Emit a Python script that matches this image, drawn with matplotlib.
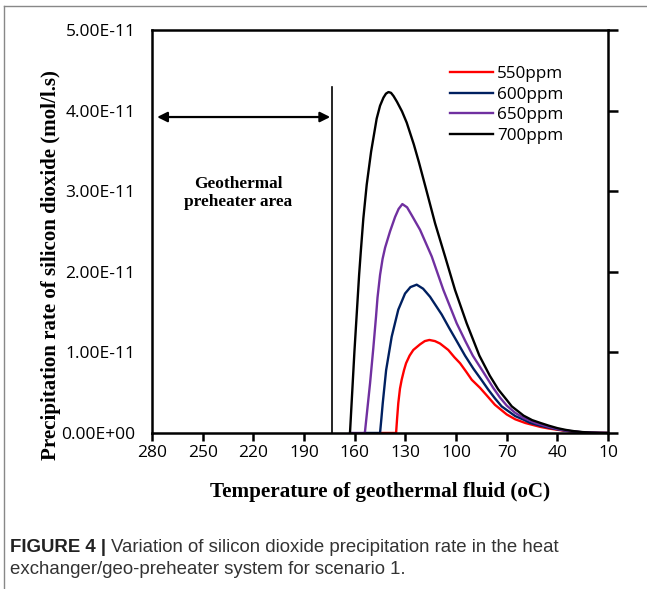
import matplotlib.pyplot as plt
from matplotlib.lines import Line2D

# temperatures (oC) and precipitation rates (x 1e-11 mol/l.s)
t_700 = [162.8, 160.2, 157.4, 156.4, 154.9, 152.9, 150.3, 147, 145, 143, 141.5, 140, 138.5,
         137, 135, 132, 129.2, 125, 122, 117.8, 112.4, 106.5, 100.6, 93.7, 86.2, 80, 75, 70, 67,
         60, 55, 50, 45, 40, 35, 30, 25, 20, 15, 10]
v_700 = [0, 1.0, 1.96, 2.25, 2.66, 3.08, 3.49, 3.9, 4.06, 4.16, 4.21, 4.23, 4.22,
         4.18, 4.11, 3.99, 3.85, 3.58, 3.36, 3.03, 2.6, 2.19, 1.774, 1.36, 0.96, 0.71, 0.54, 0.41,
         0.33, 0.215, 0.16, 0.124, 0.09, 0.06, 0.038, 0.022, 0.011, 0.005, 0.002, 0]

t_650 = [162.8, 154, 152.5, 150.9, 149, 147.4, 146.5, 145, 143.5, 142, 139.1, 136.1, 134,
         131.8, 129, 126.2, 121.3, 114.4, 107.5, 99.6, 94.5, 90.1, 84, 78, 74, 70, 65, 60, 53,
         45, 40, 35, 30, 25, 20, 15, 10]
v_650 = [0, 0, 0.3, 0.62, 1.05, 1.44, 1.68, 1.96, 2.16, 2.3, 2.5, 2.68, 2.78,
         2.84, 2.8, 2.7, 2.52, 2.19, 1.774, 1.36, 1.14, 0.96, 0.76, 0.56, 0.44, 0.34, 0.25,
         0.186, 0.124, 0.075, 0.05, 0.03, 0.018, 0.009, 0.004, 0.001, 0]

t_600 = [154, 145, 144.2, 143.4, 141.4, 138.1, 134.2, 130.2, 127, 123.3, 119.5, 115.4, 108.5,
         104, 99.6, 94.7, 89.8, 85, 81, 77, 73, 65, 60, 56, 50, 45, 40, 35, 30, 25, 20, 15, 10]
v_600 = [0, 0, 0.18, 0.37, 0.78, 1.195, 1.53, 1.73, 1.81, 1.84, 1.79, 1.69, 1.47,
         1.3, 1.14, 0.96, 0.8, 0.66, 0.54, 0.43, 0.33, 0.21, 0.165, 0.124, 0.09, 0.065, 0.045,
         0.028, 0.016, 0.008, 0.003, 0.001, 0]

t_550 = [145, 135.5, 134.9, 134.2, 133.2, 132.2, 130.8, 129.6, 127.5, 125.3, 121.3, 118.5,
         115.8, 112.5, 109.5, 104.6, 101, 97.6, 94, 90.7, 85.8, 82, 77, 70, 65, 59, 50, 45, 40,
         35, 30, 25, 20, 15, 10]
v_550 = [0, 0, 0.18, 0.37, 0.55, 0.66, 0.78, 0.865, 0.96, 1.03, 1.1, 1.14,
         1.154, 1.14, 1.11, 1.03, 0.94, 0.865, 0.76, 0.66, 0.56, 0.47, 0.35, 0.23, 0.17, 0.124,
         0.075, 0.055, 0.04, 0.025, 0.014, 0.007, 0.003, 0.001, 0]

series = [
    ('550ppm', t_550, v_550, '#FF0000'),
    ('600ppm', t_600, v_600, '#002060'),
    ('650ppm', t_650, v_650, '#7030A0'),
    ('700ppm', t_700, v_700, '#000000'),
]

x_ticks = [280, 250, 220, 190, 160, 130, 100, 70, 40, 10]
y_ticks = [0, 1, 2, 3, 4, 5]
y_labels = ['0.00E+00', '1.00E-11', '2.00E-11', '3.00E-11', '4.00E-11', '5.00E-11']

preheater_edge = 173.4
arrow_left, arrow_right, arrow_y = 277, 174.5, 3.92

serif = ['Liberation Serif', 'DejaVu Serif']
sans = ['Open Sans', 'DejaVu Sans']

fig = plt.figure(figsize=(6.47, 5.89), dpi=100)
ax = fig.add_axes([0.235, 0.2649, 0.7048, 0.6842])

for name, t, v, col in series:
    ax.plot(t, v, color=col, linewidth=1.7, label=name, solid_joinstyle='round')

ax.set_xlim(280, 10)
ax.set_ylim(0, 5)
ax.set_xticks(x_ticks)
ax.set_xticklabels([str(x) for x in x_ticks], fontfamily=sans, fontsize=12.5)
ax.set_yticks(y_ticks)
ax.set_yticklabels(y_labels, fontfamily=sans, fontsize=12.5)
ax.tick_params(axis='x', direction='out', length=6, width=1.8, pad=3)
ax.tick_params(axis='y', left=False, right=True, direction='out', length=7, width=1.8, pad=5)
for s in ax.spines.values():
    s.set_linewidth(1.8)

# preheater boundary and arrow
ax.plot([preheater_edge, preheater_edge], [0, 4.29], color='black', linewidth=1.2)
ax.annotate('', xy=(arrow_right, arrow_y), xytext=(arrow_left, arrow_y),
            arrowprops=dict(arrowstyle='<|-|>', color='black', lw=1.6, mutation_scale=15,
                            shrinkA=0, shrinkB=0))
ax.text(229, 2.98, 'Geothermal\npreheater area', ha='center', va='center',
        fontfamily=serif, fontweight='bold', fontsize=12.4, linespacing=1.2)

ax.set_xlabel('Temperature of geothermal fluid (oC)', fontfamily=serif, fontweight='bold',
              fontsize=15.2, va='center')
ax.xaxis.set_label_coords(0.5, -0.146)
ax.set_ylabel('Precipitation rate of silicon dioxide (mol/l.s)', fontfamily=serif,
              fontweight='bold', fontsize=15.1, va='center')
ax.yaxis.set_label_coords(-0.222, 0.417)

leg = ax.legend(loc='upper right', bbox_to_anchor=(0.917, 0.928), frameon=False,
                prop={'family': sans, 'size': 12.3}, handlelength=2.5, handletextpad=0.25,
                labelspacing=0.28, borderaxespad=0)

# page frame and caption
fig.add_artist(Line2D([0.006, 1.0], [0.99, 0.99], color='#888888', linewidth=1.0))
fig.add_artist(Line2D([0.006, 0.006], [0.0, 0.99], color='#888888', linewidth=1.0))

cap = ['Liberation Sans', 'DejaVu Sans']
fig.text(0.016, 0.063, 'FIGURE 4 |', fontfamily=cap, fontweight='bold', fontsize=13.4,
         color='#222222', va='baseline')
fig.text(0.1716, 0.063, 'Variation of silicon dioxide precipitation rate in the heat',
         fontfamily=cap, fontsize=13.4, color='#333333', va='baseline')
fig.text(0.016, 0.025, 'exchanger/geo-preheater system for scenario 1.',
         fontfamily=cap, fontsize=13.4, color='#333333', va='baseline')

fig.savefig('out.png', dpi=100)
